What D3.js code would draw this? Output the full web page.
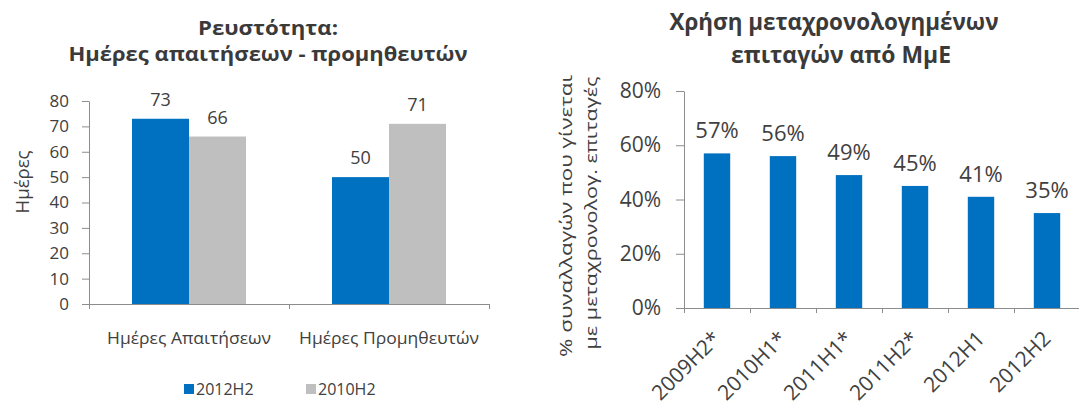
<!DOCTYPE html>
<html>
<head>
<meta charset="utf-8">
<script src="https://cdn.jsdelivr.net/npm/d3@7/dist/d3.min.js"></script>
<style>
  body { margin: 0; background: #fff; }
  text { font-family: "Open Sans", sans-serif; fill: #404040; }
  .axis path, .axis line { stroke: #8c8c8c; }
</style>
</head>
<body>
<svg id="chart" width="1079" height="401"></svg>
<script>
// left chart: days receivables / payables
const dayCategories = ["Ημέρες Απαιτήσεων", "Ημέρες Προμηθευτών"];
const daySeries = ["2012H2", "2010H2"];
const days2012H2 = [73, 50];
const days2010H2 = [66, 71];
const dayTicks = [0, 10, 20, 30, 40, 50, 60, 70, 80];

// right chart: use of post-dated cheques by SMEs
const chequePeriods = ["2009H2*", "2010H1*", "2011H1*", "2011H2*", "2012H1", "2012H2"];
const chequeShare = [0.57, 0.56, 0.49, 0.45, 0.41, 0.35];
const chequeTicks = [0, 0.2, 0.4, 0.6, 0.8];

const blue = "#0070c0", grey = "#bfbfbf";
const svg = d3.select("#chart");

function fit(sel, w) {
  sel.attr("textLength", w).attr("lengthAdjust", "spacingAndGlyphs");
}

// ---------- left ----------
const x0 = d3.scaleBand().domain(dayCategories).range([89, 489]).paddingInner(0.43).paddingOuter(0.215);
const x1 = d3.scaleBand().domain(daySeries).range([0, x0.bandwidth()]);
const y = d3.scaleLinear().domain([0, 80]).range([304, 101]);
const colour = d3.scaleOrdinal().domain(daySeries).range([blue, grey]);

const rows = dayCategories.map((c, i) => ({cat: c, vals: [
  {s: daySeries[0], v: days2012H2[i]},
  {s: daySeries[1], v: days2010H2[i]}]}));

const gl = svg.append("g");
const grp = gl.selectAll("g.cat").data(rows).join("g")
  .attr("transform", d => `translate(${x0(d.cat)},0)`);
grp.selectAll("rect").data(d => d.vals).join("rect")
  .attr("x", d => x1(d.s)).attr("width", x1.bandwidth())
  .attr("y", d => y(d.v)).attr("height", d => y(0) - y(d.v))
  .attr("fill", d => colour(d.s));
grp.selectAll("text").data(d => d.vals).join("text")
  .attr("x", d => x1(d.s) + x1.bandwidth() / 2)
  .attr("y", d => y(d.v) - 13)
  .attr("text-anchor", "middle").style("font-size", "18px")
  .text(d => d.v);

gl.append("g").attr("class", "axis").attr("transform", "translate(89,0)")
  .call(d3.axisLeft(y).tickValues(dayTicks).tickSize(7).tickPadding(13).tickSizeOuter(0))
  .call(g => g.selectAll("text").style("font-size", "17px").attr("fill", null));

const xEdge = d3.scaleLinear().domain([0, 2]).range([89, 489]);
gl.append("g").attr("class", "axis").attr("transform", `translate(0,${y(0)})`)
  .call(d3.axisBottom(xEdge).tickValues(d3.range(3)).tickSize(5).tickSizeOuter(0).tickFormat(""));

const catW = [164, 180];
gl.selectAll("text.cat").data(dayCategories).join("text").attr("class", "cat")
  .attr("x", d => x0(d) + x0.bandwidth() / 2).attr("y", 344)
  .attr("text-anchor", "middle").style("font-size", "17px")
  .text(d => d)
  .each(function(d, i) { fit(d3.select(this), catW[i]); });

gl.append("text").attr("transform", "translate(29,182) rotate(-90)")
  .attr("text-anchor", "middle").style("font-size", "18px")
  .text("Ημέρες").call(fit, 63);

gl.append("text").attr("x", 268).attr("y", 35).attr("text-anchor", "middle")
  .style("font-size", "20px").style("font-weight", "bold").attr("fill", "#3a3a3a")
  .style("fill", "#3a3a3a").text("Ρευστότητα:").call(fit, 140);
gl.append("text").attr("x", 268).attr("y", 61).attr("text-anchor", "middle")
  .style("font-size", "20px").style("font-weight", "bold")
  .style("fill", "#3a3a3a").text("Ημέρες απαιτήσεων - προμηθευτών").call(fit, 399);

const legX = [184, 306];
const leg = gl.selectAll("g.leg").data(daySeries).join("g").attr("class", "leg")
  .attr("transform", (d, i) => `translate(${legX[i]},384)`);
leg.append("rect").attr("width", 10).attr("height", 10).attr("fill", d => colour(d));
leg.append("text").attr("x", 12).attr("y", 11).style("font-size", "16px").text(d => d);

// ---------- right ----------
const xr = d3.scaleBand().domain(chequePeriods).range([684, 1080]).paddingInner(0.6).paddingOuter(0.3);
const yr = d3.scaleLinear().domain([0, 0.8]).range([308, 91]);
const pct = d3.format(".0%");

const gr = svg.append("g");
gr.selectAll("rect").data(chequePeriods).join("rect")
  .attr("x", d => xr(d)).attr("width", xr.bandwidth())
  .attr("y", (d, i) => yr(chequeShare[i]))
  .attr("height", (d, i) => yr(0) - yr(chequeShare[i]))
  .attr("fill", blue);
gr.selectAll("text.val").data(chequePeriods).join("text").attr("class", "val")
  .attr("x", d => xr(d) + xr.bandwidth() / 2)
  .attr("y", (d, i) => yr(chequeShare[i]) - 15)
  .attr("text-anchor", "middle").style("font-size", "22px")
  .text((d, i) => pct(chequeShare[i]));

gr.append("g").attr("class", "axis").attr("transform", "translate(684,0)")
  .call(d3.axisLeft(yr).tickValues(chequeTicks).tickFormat(pct).tickSize(8).tickPadding(15).tickSizeOuter(0))
  .call(g => g.selectAll("text").style("font-size", "21px").attr("fill", null));

const xrEdge = d3.scaleLinear().domain([0, 6]).range([684, 1080]);
gr.append("g").attr("class", "axis").attr("transform", `translate(0,${yr(0)})`)
  .call(d3.axisBottom(xrEdge).tickValues(d3.range(7)).tickSize(5).tickSizeOuter(0).tickFormat(""));

gr.selectAll("text.per").data(chequePeriods).join("text").attr("class", "per")
  .attr("transform", d => `translate(${xr(d) + xr.bandwidth() / 2 + 5},340) rotate(-45)`)
  .attr("text-anchor", "end").style("font-size", "21px")
  .text(d => d);

const yLab = gr.append("g");
yLab.append("text").attr("transform", "translate(572,216) rotate(-90)")
  .attr("text-anchor", "middle").style("font-size", "17px")
  .text("% συναλλαγών που γίνεται").call(fit, 282);
yLab.append("text").attr("transform", "translate(597,213) rotate(-90)")
  .attr("text-anchor", "middle").style("font-size", "17px")
  .text("με μεταχρονολογ. επιταγές").call(fit, 273);

gr.append("text").attr("x", 834).attr("y", 30).attr("text-anchor", "middle")
  .style("font-size", "23px").style("font-weight", "bold").style("fill", "#3a3a3a")
  .text("Χρήση μεταχρονολογημένων").call(fit, 329);
gr.append("text").attr("x", 841).attr("y", 63).attr("text-anchor", "middle")
  .style("font-size", "23px").style("font-weight", "bold").style("fill", "#3a3a3a")
  .text("επιταγών από ΜμΕ").call(fit, 220);
</script>
</body>
</html>
